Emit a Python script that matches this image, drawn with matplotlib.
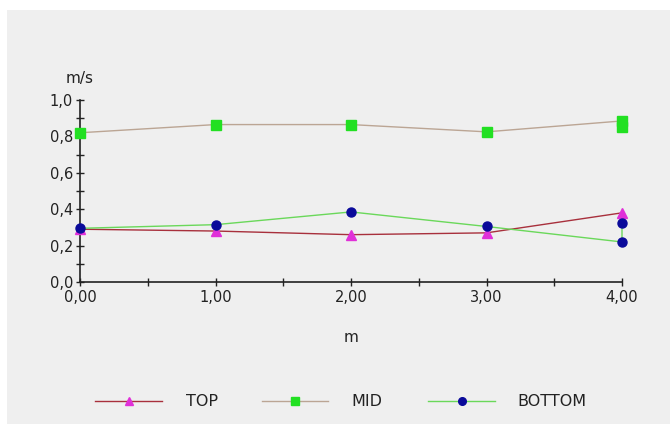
import matplotlib
matplotlib.use("Agg")
import matplotlib.pyplot as plt
from matplotlib.lines import Line2D
from matplotlib.patches import Rectangle
from matplotlib.ticker import MultipleLocator, FuncFormatter

plt.rcParams["font.family"] = ["DejaVu Sans"]

# Velocity profile readings (m/s) along the section (m)
x_top = [0, 1, 2, 3, 4]
top = [0.29, 0.28, 0.26, 0.27, 0.38]

x_mid = [0, 1, 2, 3, 4, 4]
mid = [0.82, 0.865, 0.865, 0.825, 0.885, 0.85]

x_bottom = [0, 1, 2, 3, 4, 4]
bottom = [0.295, 0.315, 0.385, 0.305, 0.22, 0.325]

series_names = ["TOP", "MID", "BOTTOM"]
line_colors = ["#a8303c", "#bba594", "#6ad85a"]
marker_colors = ["#e030d8", "#22e022", "#0a0a9a"]
marker_shapes = ["^", "s", "o"]

W, H = 670, 424
fig = plt.figure(figsize=(W / 100, H / 100), dpi=100)
fig.patch.set_facecolor("white")

# grey panel behind the chart
fig.add_artist(Rectangle((7 / W, 0), 1 - 7 / W, (H - 10) / H,
                         transform=fig.transFigure, facecolor="#efefef",
                         edgecolor="none", zorder=0))

def fx(px):
    return px / W

def fy(py):
    return 1 - py / H

ax = fig.add_axes([fx(80), fy(282), fx(622) - fx(80), fy(100) - fy(282)])
ax.set_facecolor("none")
ax.set_zorder(2)

data = [(x_top, top), (x_mid, mid), (x_bottom, bottom)]
for (xs, ys), lc, mc, mk in zip(data, line_colors, marker_colors, marker_shapes):
    ax.plot(xs, ys, color=lc, lw=1.0, zorder=3, clip_on=False)
    ax.plot(xs, ys, ls="none", marker=mk, ms=6.5, mfc=mc, mec=mc,
            zorder=4, clip_on=False)

ax.set_xlim(0, 4)
ax.set_ylim(0, 1)
for s in ("top", "right"):
    ax.spines[s].set_visible(False)
for s in ("left", "bottom"):
    ax.spines[s].set_color("#222222")
    ax.spines[s].set_linewidth(1.2)

ax.xaxis.set_major_locator(MultipleLocator(1))
ax.xaxis.set_minor_locator(MultipleLocator(0.5))
ax.yaxis.set_major_locator(MultipleLocator(0.2))
ax.yaxis.set_minor_locator(MultipleLocator(0.1))
ax.xaxis.set_major_formatter(FuncFormatter(lambda v, p: f"{v:.2f}".replace(".", ",")))
ax.yaxis.set_major_formatter(FuncFormatter(lambda v, p: f"{v:.1f}".replace(".", ",")))
ax.tick_params(which="both", direction="inout", length=6, width=1,
               color="#222222", labelsize=10.5, labelcolor="#222222")
ax.tick_params(axis="x", which="major", pad=3)
ax.tick_params(axis="y", which="major", pad=2)

fig.text(fx(80), fy(78), "m/s", ha="center", va="center", fontsize=11, color="#222222")
fig.text(fx(351), fy(338), "m", ha="center", va="center", fontsize=11, color="#222222")

# legend row
leg_y = fy(401)
leg_lines = [(95, 162), (262, 328), (428, 495)]
leg_text_x = [186, 351, 517]
for (x0, x1), tx, name, lc, mc, mk in zip(leg_lines, leg_text_x, series_names,
                                           line_colors, marker_colors, marker_shapes):
    fig.add_artist(Line2D([fx(x0), fx(x1)], [leg_y, leg_y], color=lc, lw=1.0,
                          transform=fig.transFigure, zorder=3))
    fig.add_artist(Line2D([fx((x0 + x1) / 2)], [leg_y], ls="none", marker=mk, ms=5.5,
                          mfc=mc, mec=mc, transform=fig.transFigure, zorder=4))
    fig.text(fx(tx), leg_y, name, ha="left", va="center", fontsize=11.5, color="#222222")

fig.savefig("out.png", dpi=100)
